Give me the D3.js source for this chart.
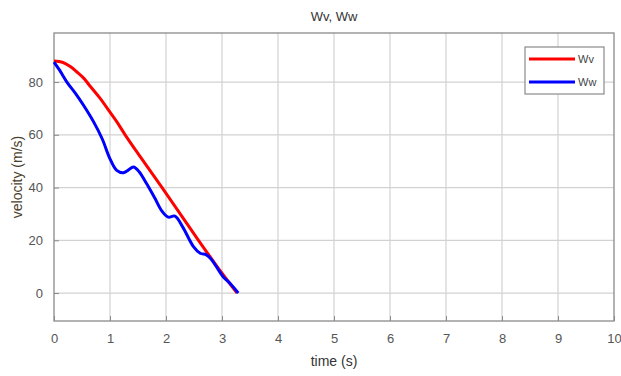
<!DOCTYPE html>
<html>
<head>
<meta charset="utf-8">
<script src="https://cdn.jsdelivr.net/npm/d3@7"></script>
<style>
  body { margin: 0; background: #fff; }
  text { font-family: "Liberation Sans", Arial, sans-serif; }
</style>
</head>
<body>
<svg id="chart" width="621" height="376"></svg>
<script>
// values
const wvTime = [0, 0.15, 0.29, 0.4, 0.53, 0.65, 0.82, 1.0, 1.12, 1.27, 1.52, 1.93, 2.58, 3.0, 3.27];
const wvVel  = [88, 87.5, 85.9, 84, 81.5, 78.3, 73.9, 68.6, 65, 60, 52.3, 40, 20, 7.5, 0];

const wwTime = [0, 0.1, 0.23, 0.38, 0.53, 0.71, 0.86, 1.0, 1.12, 1.24, 1.32, 1.42, 1.52, 1.65, 1.8, 1.93, 2.04, 2.16, 2.3, 2.49, 2.61, 2.72, 2.8, 2.9, 3.02, 3.15, 3.29];
const wwVel  = [87.6, 84.5, 80, 75.8, 71.1, 64.8, 58.5, 50.9, 46.5, 45.6, 46.5, 47.8, 46, 41.6, 36, 31, 28.8, 29.2, 25, 17.6, 15.1, 14.5, 13, 10, 6.2, 3.5, 0];

const xTicks = [0, 1, 2, 3, 4, 5, 6, 7, 8, 9, 10];
const yTicks = [0, 20, 40, 60, 80];

const svg = d3.select('#chart');
const pLeft = 54, pRight = 614, pTop = 33, pBottom = 321;

//scales
const x = d3.scaleLinear().domain([0, 10]).range([pLeft, pRight]);
const y = d3.scaleLinear().domain([-10.6, 98.6]).range([pBottom, pTop]);

// grid
svg.append('g').selectAll('line')
  .data(xTicks.slice(1, -1))
  .enter().append('line')
  .attr('x1', d => x(d)).attr('x2', d => x(d))
  .attr('y1', pTop).attr('y2', pBottom)
  .attr('stroke', '#d2d2d2').attr('stroke-width', 1.2);
svg.append('g').selectAll('line')
  .data(yTicks)
  .enter().append('line')
  .attr('x1', pLeft).attr('x2', pRight)
  .attr('y1', d => y(d)).attr('y2', d => y(d))
  .attr('stroke', '#d2d2d2').attr('stroke-width', 1.2);

// axes (ticks inside, MATLAB style)
const xAxis = svg.append('g')
  .attr('transform', `translate(0,${pBottom})`)
  .call(d3.axisBottom(x).tickValues(xTicks).tickSizeInner(-5).tickSizeOuter(0).tickPadding(13));
const yAxis = svg.append('g')
  .attr('transform', `translate(${pLeft},0)`)
  .call(d3.axisLeft(y).tickValues(yTicks).tickSizeInner(-5).tickSizeOuter(0).tickPadding(11));
[xAxis, yAxis].forEach(a => {
  a.select('.domain').remove();
  a.selectAll('line').attr('stroke', '#8a8a8a');
  a.selectAll('text').attr('fill', '#555').attr('font-size', 13);
});

// box
svg.append('rect')
  .attr('x', pLeft).attr('y', pTop)
  .attr('width', pRight - pLeft).attr('height', pBottom - pTop)
  .attr('fill', 'none').attr('stroke', '#8a8a8a').attr('stroke-width', 1.3);

// lines
const line = d3.line().x(d => x(d[0])).y(d => y(d[1])).curve(d3.curveCatmullRom.alpha(0.5));
svg.append('path')
  .datum(d3.zip(wvTime, wvVel))
  .attr('d', line)
  .attr('fill', 'none').attr('stroke', '#ff0000').attr('stroke-width', 3);
svg.append('path')
  .datum(d3.zip(wwTime, wwVel))
  .attr('d', line)
  .attr('fill', 'none').attr('stroke', '#0000ff').attr('stroke-width', 3);

// titles
svg.append('text')
  .attr('x', (pLeft + pRight) / 2).attr('y', 21)
  .attr('text-anchor', 'middle').attr('font-size', 13).attr('fill', '#333')
  .text('Wv, Ww');
svg.append('text')
  .attr('x', (pLeft + pRight) / 2).attr('y', 366)
  .attr('text-anchor', 'middle').attr('font-size', 14).attr('fill', '#333')
  .text('time (s)');
svg.append('text')
  .attr('transform', `translate(22,${(pTop + pBottom) / 2}) rotate(-90)`)
  .attr('text-anchor', 'middle').attr('font-size', 14).attr('fill', '#4a3f2c')
  .text('velocity (m/s)');

// legend
const legend = svg.append('g');
legend.append('rect')
  .attr('x', 525).attr('y', 47).attr('width', 79).attr('height', 47)
  .attr('fill', '#fff').attr('stroke', '#8a8a8a').attr('stroke-width', 1.2);
const legendItems = [['Wv', '#ff0000'], ['Ww', '#0000ff']];
legendItems.forEach((d, i) => {
  const ly = 59 + i * 23;
  legend.append('line')
    .attr('x1', 529).attr('x2', 575).attr('y1', ly).attr('y2', ly)
    .attr('stroke', d[1]).attr('stroke-width', 3);
  legend.append('text')
    .attr('x', 578).attr('y', ly + 4)
    .attr('font-size', 11).attr('fill', '#444')
    .text(d[0]);
});
</script>
</body>
</html>
